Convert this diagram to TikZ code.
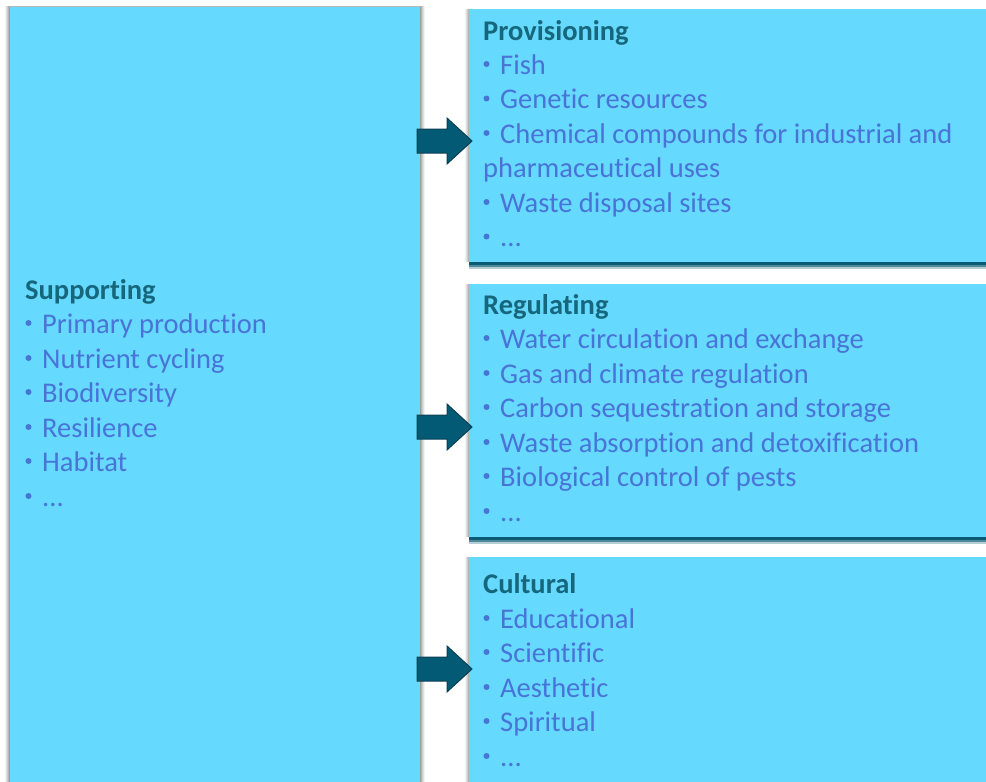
\documentclass[tikz,border=0pt]{standalone}
\usepackage{fontspec}
\setmainfont[Ligatures={NoCommon}]{Carlito}
\usetikzlibrary{calc}
\definecolor{boxfill}{HTML}{66D9FF}
\definecolor{titlecol}{HTML}{16677C}
\definecolor{itemcol}{HTML}{4874D8}
\definecolor{arrowfill}{HTML}{035A75}
\definecolor{arrowline}{HTML}{0B4154}
\definecolor{shadowdark}{HTML}{0A5A73}
\newcommand\mydots{...}
\tikzset{
  panel/.style={fill=boxfill, draw=none},
  ttl/.style={anchor=base west, inner sep=0pt, text=titlecol, font=\fontsize{28.5}{34}\selectfont\bfseries},
  itm/.style={anchor=base west, inner sep=0pt, text=itemcol, font=\fontsize{28.5}{34}\selectfont},
  bul/.style={circle, fill=itemcol, inner sep=0pt, minimum size=6pt},
  blockarrow/.style={fill=arrowfill, draw=arrowline, line width=1pt, line join=miter}
}
\begin{document}
\begin{tikzpicture}[x=1pt,y=-1pt]
\useasboundingbox (0,0) rectangle (986,782);
% left panel soft shadow
\foreach \d/\o in {5/0.05,4/0.07,3/0.09,2/0.11,1/0.13}{
  \fill[black, opacity=\o] (10-\d,7-\d*0.3) rectangle (420+\d,782);
}
\fill[panel] (10,7) rectangle (420,782);
% right panels shadows
\foreach \t/\b in {9/262,284/537,557/782}{
  \foreach \d/\o in {4/0.05,3/0.07,2/0.09,1/0.11}{
    \fill[black, opacity=\o] (469-\d,\t) rectangle (986,\b);
  }
  \fill[shadowdark, opacity=0.3] (469,\b) rectangle (986,\b+7);
  \fill[shadowdark, opacity=0.6] (469,\b) rectangle (986,\b+5);
  \fill[shadowdark] (469,\b) rectangle (986,\b+3);
  \fill[panel] (469,\t) rectangle (986,\b);
}
% block arrows
\foreach \c in {141,427,669}{
  \draw[blockarrow] (417,\c-12) -- (447,\c-12) -- (447,\c-23) -- (472,\c) -- (447,\c+23) -- (447,\c+12) -- (417,\c+12) -- cycle;
}
% Supporting
\node[ttl] (sup) at (25,299) {Supporting};
\foreach \y/\txt [count=\i] in {333/Primary production,368/Nutrient cycling,402/Biodiversity,437/Resilience,471/Habitat,506/\mydots}{
  \node[bul] (supb\i) at (28.5,\y-10) {};
  \node[itm] (supi\i) at (42,\y) {\txt};
}
% Provisioning
\node[ttl] (prov) at (483,40) {Provisioning};
\foreach \y/\txt [count=\i] in {74/Fish,108.5/Genetic resources,143/Chemical compounds for industrial and,212/Waste disposal sites,246.5/\mydots}{
  \node[bul] (provb\i) at (486.5,\y-10) {};
  \node[itm] (provi\i) at (500,\y) {\txt};
}
\node[itm] (provc) at (483,177.5) {pharmaceutical uses};
% Regulating
\node[ttl] (reg) at (483,314) {Regulating};
\foreach \y/\txt [count=\i] in {348/Water circulation and exchange,383/Gas and climate regulation,417/Carbon sequestration and storage,452/Waste absorption and detoxification,486/Biological control of pests,521/\mydots}{
  \node[bul] (regb\i) at (486.5,\y-10) {};
  \node[itm] (regi\i) at (500,\y) {\txt};
}
% Cultural
\node[ttl] (cul) at (483,593) {Cultural};
\foreach \y/\txt [count=\i] in {628/Educational,662/Scientific,697/Aesthetic,731/Spiritual,766/\mydots}{
  \node[bul] (culb\i) at (486.5,\y-10) {};
  \node[itm] (culi\i) at (500,\y) {\txt};
}
\end{tikzpicture}
\end{document}
